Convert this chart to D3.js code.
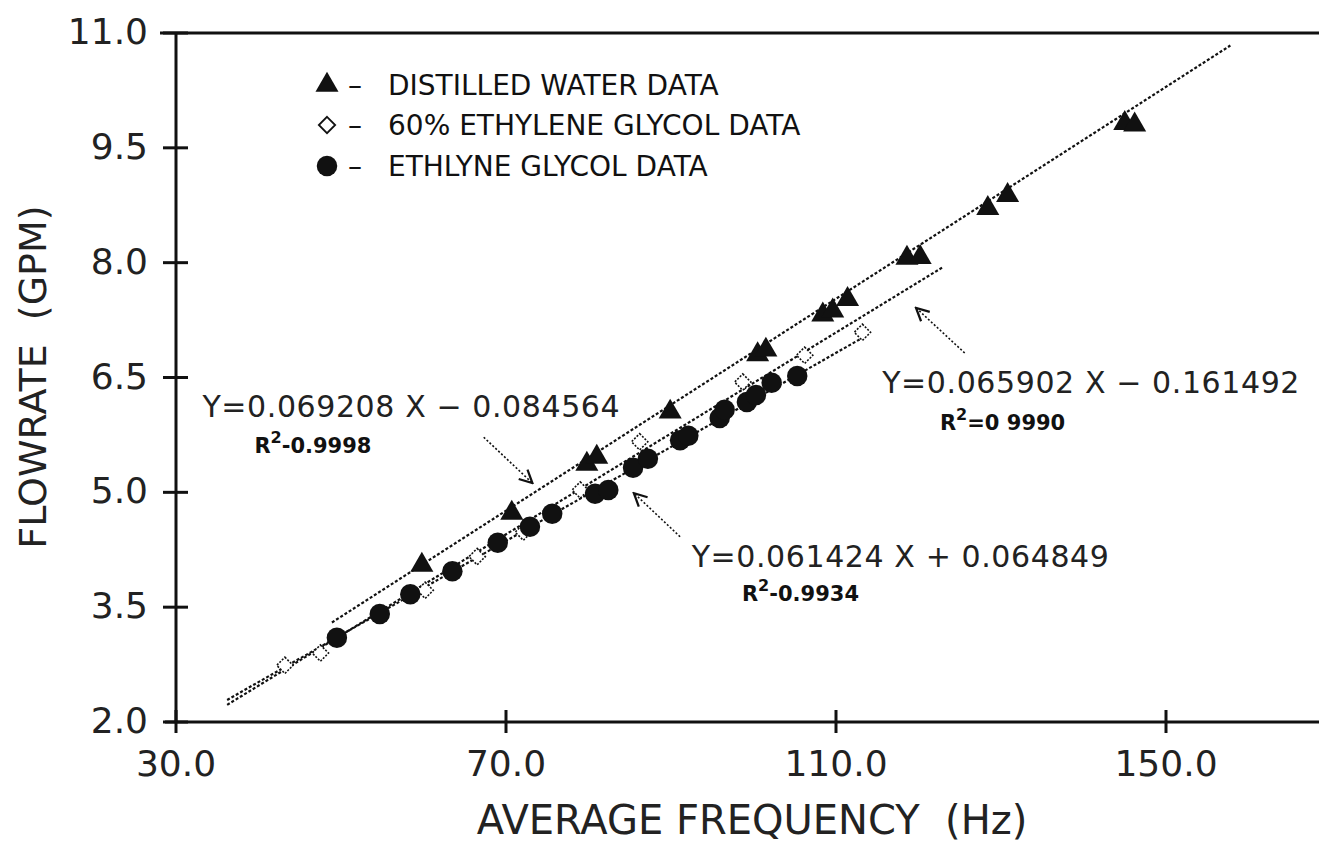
<!DOCTYPE html>
<html lang="en">
<head>
  <meta charset="UTF-8">
  <title>Flowrate vs Average Frequency</title>
  <script src="https://d3js.org/d3.v7.min.js"></script>
  <style>
    body { margin: 0; background: #fff; }
    svg { display: block; font-family: "DejaVu Sans", sans-serif; }
    .axis line, .axis path { stroke: #111; stroke-width: 3px; }
    .tick-label { font-size: 36px; fill: #222; }
    .title { font-size: 38px; fill: #222; white-space: pre; }
    .legend text { font-size: 28px; fill: #111; }
    .fit { fill: none; stroke: #111; stroke-width: 2.2px; stroke-dasharray: 3 2; }
    .eq { font-size: 30px; fill: #222; letter-spacing: 0.6px; }
    .r2 { font-size: 21px; fill: #111; font-weight: bold; }
  </style>
</head>
<body>
  <svg width="1319" height="843"></svg>
  <script>
    // tick values
    const xTicks = [30, 70, 110, 150];
    const yTicks = [2.0, 3.5, 5.0, 6.5, 8.0, 9.5, 11.0];

    // distilled water (triangles)
    const waterX = [59.8, 70.7, 79.8, 81.0, 89.9, 100.5, 101.5, 108.4, 109.6, 111.4, 118.6, 120.2, 128.4, 130.8, 145.0, 146.2];
    const waterY = [4.05, 4.73, 5.37, 5.46, 6.05, 6.80, 6.86, 7.32, 7.37, 7.52, 8.06, 8.07, 8.71, 8.88, 9.82, 9.80];

    // 60% ethylene glycol (open diamonds)
    const gly60X = [43.2, 47.5, 60.2, 66.5, 72.1, 79.0, 86.2, 98.7, 106.2, 113.2];
    const gly60Y = [2.74, 2.90, 3.72, 4.16, 4.48, 5.03, 5.66, 6.44, 6.79, 7.09];

    // ethylene glycol (filled circles)
    const ethX = [49.5, 54.7, 58.4, 63.5, 69.0, 72.9, 75.6, 80.8, 82.4, 85.4, 87.2, 91.1, 92.1, 95.9, 96.5, 99.2, 100.3, 102.2, 105.3];
    const ethY = [3.10, 3.41, 3.67, 3.97, 4.34, 4.55, 4.72, 4.98, 5.03, 5.32, 5.44, 5.68, 5.74, 5.97, 6.08, 6.18, 6.27, 6.43, 6.52];

    // regression lines: slope, intercept, x range
    const fitNames = ["water", "gly60", "eth"];
    const fitSlope = [0.069208, 0.065902, 0.061424];
    const fitIntercept = [-0.084564, -0.161492, 0.064849];
    const fitFrom = [48.9, 36.2, 36.2];
    const fitTo = [157.8, 123.0, 113.5];

    const legendLabels = ["DISTILLED WATER DATA", "60% ETHYLENE GLYCOL DATA", "ETHLYNE GLYCOL DATA"];

    const svg = d3.select("svg");
    svg.append("rect").attr("width", 1319).attr("height", 843).attr("fill", "#fff");

    const x = d3.scaleLinear().domain([30, 170]).range([176, 1331]);
    const y = d3.scaleLinear().domain([2, 11]).range([722, 33]);

    // axes
    const ax = svg.append("g").attr("class", "axis");
    ax.append("line").attr("x1", x(30)).attr("x2", x(30)).attr("y1", y(11)).attr("y2", y(2));
    ax.append("line").attr("x1", x(30) - 16).attr("x2", 1319).attr("y1", y(11)).attr("y2", y(11));
    ax.append("line").attr("x1", x(30) - 11).attr("x2", 1319).attr("y1", y(2)).attr("y2", y(2));

    ax.selectAll(".yt").data(yTicks).enter().append("line")
      .attr("x1", x(30) - 13).attr("x2", x(30) + 12)
      .attr("y1", d => y(d)).attr("y2", d => y(d));
    ax.selectAll(".xt").data(xTicks).enter().append("line")
      .attr("x1", d => x(d)).attr("x2", d => x(d))
      .attr("y1", y(2) - 12).attr("y2", y(2) + 11);

    const fmt = d3.format(".1f");
    svg.selectAll(".ylab").data(yTicks).enter().append("text")
      .attr("class", "tick-label")
      .attr("x", x(30) - 28).attr("y", d => y(d) + 11)
      .attr("text-anchor", "end")
      .text(fmt);
    svg.selectAll(".xlab").data(xTicks).enter().append("text")
      .attr("class", "tick-label")
      .attr("x", d => x(d)).attr("y", y(2) + 54)
      .attr("text-anchor", "middle")
      .text(fmt);

    svg.append("text").attr("class", "title")
      .attr("x", 752).attr("y", 834).attr("text-anchor", "middle")
      .style("font-size", "40px")
      .text("AVERAGE FREQUENCY  (Hz)");
    svg.append("text").attr("class", "title")
      .attr("transform", "translate(46,377) rotate(-90)")
      .attr("text-anchor", "middle")
      .text("FLOWRATE  (GPM)");

    // fit lines
    fitNames.forEach((n, i) => {
      const pts = [fitFrom[i], fitTo[i]].map(v => [v, fitSlope[i] * v + fitIntercept[i]]);
      svg.append("path").attr("class", "fit")
        .attr("d", d3.line().x(d => x(d[0])).y(d => y(d[1]))(pts));
    });

    // markers
    const tri = d3.symbol().type(d3.symbolTriangle).size(230);
    const dia = d3.symbol().type(d3.symbolDiamond2).size(170);
    const circ = d3.symbol().type(d3.symbolCircle).size(330);

    svg.append("g").selectAll("path").data(d3.zip(gly60X, gly60Y)).enter().append("path")
      .attr("d", dia)
      .attr("transform", d => `translate(${x(d[0])},${y(d[1])})`)
      .attr("fill", "#fff").attr("stroke", "#111").attr("stroke-width", 1.6)
      .attr("stroke-dasharray", "2 1.5");
    svg.append("g").selectAll("path").data(d3.zip(ethX, ethY)).enter().append("path")
      .attr("d", circ)
      .attr("transform", d => `translate(${x(d[0])},${y(d[1])})`)
      .attr("fill", "#111");
    svg.append("g").selectAll("path").data(d3.zip(waterX, waterY)).enter().append("path")
      .attr("d", tri)
      .attr("transform", d => `translate(${x(d[0])},${y(d[1])})`)
      .attr("fill", "#111");

    // legend
    const legend = svg.append("g").attr("class", "legend");
    const legSym = [tri, dia, circ];
    const legY = [85, 125, 166];
    legendLabels.forEach((t, i) => {
      const s = legend.append("path").attr("d", legSym[i])
        .attr("transform", `translate(327,${legY[i]})`);
      if (i === 1) s.attr("fill", "#fff").attr("stroke", "#111").attr("stroke-width", 1.8);
      else s.attr("fill", "#111");
      legend.append("text").attr("x", 348).attr("y", legY[i] + 10).text("\u2013");
      legend.append("text").attr("x", 388).attr("y", legY[i] + 10).text(t);
    });

    // annotations: equation text and arrows, placed in data coordinates
    svg.append("defs").append("marker")
      .attr("id", "arr").attr("viewBox", "0 0 10 10")
      .attr("refX", 9).attr("refY", 5)
      .attr("markerWidth", 10).attr("markerHeight", 10)
      .attr("orient", "auto")
      .append("path").attr("d", "M1,1 L9,5 L1,9")
      .attr("fill", "none").attr("stroke", "#111").attr("stroke-width", 1.4);

    const notes = [
      { eq: "Y=0.069208 X \u2212 0.084564", r2: "0.9998", sep: "-", ex: 33.2, ey: 5.98, rx: 39.5, ry: 5.52, a: [67.3, 5.72, 73.2, 5.12] },
      { eq: "Y=0.065902 X \u2212 0.161492", r2: "0 9990", sep: "=", ex: 115.6, ey: 6.30, rx: 122.6, ry: 5.82, a: [125.6, 6.82, 119.7, 7.41] },
      { eq: "Y=0.061424 X + 0.064849", r2: "0.9934", sep: "-", ex: 92.5, ey: 4.02, rx: 98.6, ry: 3.58, a: [91.1, 4.42, 85.5, 4.99] }
    ];
    notes.forEach(n => {
      svg.append("text").attr("class", "eq").attr("x", x(n.ex)).attr("y", y(n.ey)).text(n.eq);
      const r = svg.append("text").attr("class", "r2").attr("x", x(n.rx)).attr("y", y(n.ry));
      r.append("tspan").text("R");
      r.append("tspan").attr("dy", -10).style("font-size", "16px").text("2");
      r.append("tspan").attr("dy", 10).text(n.sep + n.r2);
      svg.append("line")
        .attr("x1", x(n.a[0])).attr("y1", y(n.a[1]))
        .attr("x2", x(n.a[2])).attr("y2", y(n.a[3]))
        .attr("stroke", "#111").attr("stroke-width", 1.6)
        .attr("stroke-dasharray", "2 2")
        .attr("marker-end", "url(#arr)");
    });
  </script>
</body>
</html>
